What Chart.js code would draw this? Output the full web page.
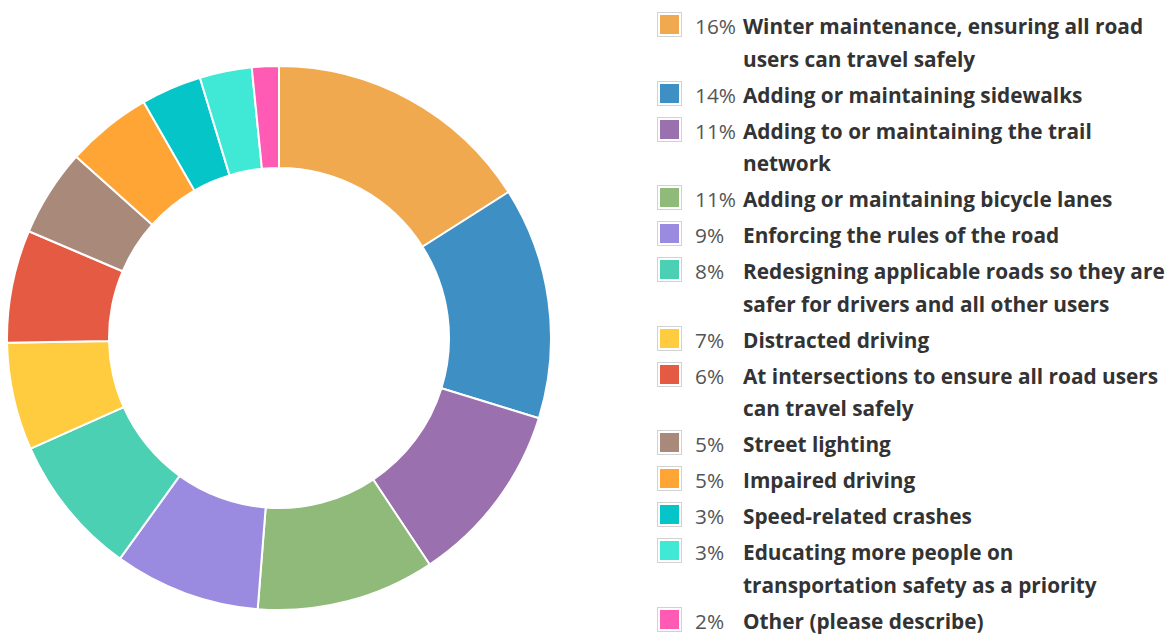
<!DOCTYPE html>
<html>
<head>
<meta charset="utf-8">
<script src="https://cdn.jsdelivr.net/npm/chart.js@4"></script>
<style>
  html, body { margin: 0; padding: 0; background: #fff; }
  body { width: 1174px; height: 635px; position: relative; overflow: hidden; font-family: "Open Sans", sans-serif; }
  #chartBox { position: absolute; left: 6px; top: 65px; width: 546px; height: 546px; }
  #legend { position: absolute; left: 657px; top: 10px; width: 517px; list-style: none; margin: 0; padding: 0; }
  #legend li { display: flex; align-items: flex-start; margin-bottom: 3.5px; }
  .sw { flex: 0 0 auto; border: 1px solid #d2d2d2; padding: 2px; background: #fff; margin-top: 2px; }
  .sw i { display: block; width: 19px; height: 19px; }
  .pct { flex: 0 0 48px; margin-left: 13px; font-size: 20.8px; line-height: 32.5px; color: #555; }
  .lbl { flex: 0 0 426px; font-size: 20.8px; line-height: 32.5px; font-weight: bold; color: #333; }
</style>
</head>
<body>
<div id="chartBox"><canvas id="donut" width="546" height="546"></canvas></div>
<ul id="legend"></ul>
<script>
const labels = [
  "Winter maintenance, ensuring all road users can travel safely",
  "Adding or maintaining sidewalks",
  "Adding to or maintaining the trail network",
  "Adding or maintaining bicycle lanes",
  "Enforcing the rules of the road",
  "Redesigning applicable roads so they are safer for drivers and all other users",
  "Distracted driving",
  "At intersections to ensure all road users can travel safely",
  "Street lighting",
  "Impaired driving",
  "Speed-related crashes",
  "Educating more people on transportation safety as a priority",
  "Other (please describe)"
];
const percentLabels = ["16%", "14%", "11%", "11%", "9%", "8%", "7%", "6%", "5%", "5%", "3%", "3%", "2%"];
const values = [16.0, 13.8, 10.9, 10.6, 8.7, 8.4, 6.4, 6.7, 5.2, 5.1, 3.6, 3.1, 1.6];
const colors = ["#F0A94E", "#3E8FC4", "#9B70AE", "#8FBA7A", "#9A8BE0", "#4BD0B4", "#FFCB3F",
                "#E45A42", "#A98A7A", "#FFA536", "#06C5C9", "#40E8D6", "#FF5AB4"];

new Chart(document.getElementById("donut"), {
  type: "doughnut",
  data: {
    labels: labels,
    datasets: [{
      data: values,
      backgroundColor: colors,
      borderColor: "#fff",
      borderWidth: 2
    }]
  },
  options: {
    responsive: false,
    animation: false,
    cutout: "62.5%",
    layout: { padding: 0 },
    plugins: {
      legend: { display: false },
      tooltip: { enabled: false }
    }
  }
});

// legenda html a la derecha
const ul = document.getElementById("legend");
labels.forEach((lab, i) => {
  const li = document.createElement("li");
  li.innerHTML = `<span class="sw"><i style="background:${colors[i]}"></i></span>` +
    `<span class="pct">${percentLabels[i]}</span><span class="lbl">${lab}</span>`;
  ul.appendChild(li);
});
</script>
</body>
</html>
